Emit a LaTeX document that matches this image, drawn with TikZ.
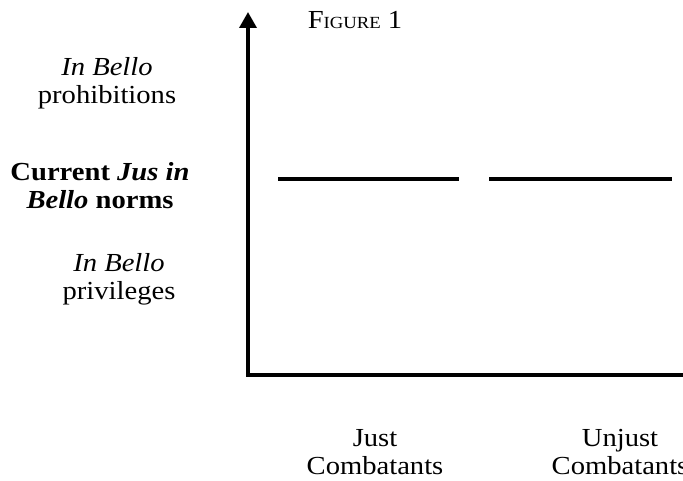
\documentclass[tikz,border=0pt]{standalone}
\usepackage{fontspec}
\setmainfont[FakeStretch=1.1]{Liberation Serif}
\usetikzlibrary{arrows.meta}

\tikzset{
  axis/.style={line width=3.5pt, line cap=rect},
  level/.style={line width=4pt},
  lbl/.style={align=center, inner sep=0pt, font=\fontsize{26}{28}\selectfont}
}

\begin{document}
\begin{tikzpicture}[x=1pt, y=-1pt]
			%%%%% START %%%%%
			\useasboundingbox (0, 0) rectangle (683, 481);
			
			\coordinate (origin) at (248, 375);
			\coordinate (ytop) at (248, 12);
			\coordinate (xend) at (690, 375);
			
			\draw[axis, -{Triangle[width=17pt, length=16pt]}] (origin) -- (ytop);
			\draw[axis] (origin) -- (xend);
			
			\coordinate (ja) at (278, 179);
			\coordinate (jb) at (459, 179);
			\coordinate (ua) at (489, 179);
			\coordinate (ub) at (672, 179);
			\draw[level] (ja) -- (jb);
			\draw[level] (ua) -- (ub);
			
			\node[lbl] (title) at (355, 20) {F{\fontsize{17}{20}\selectfont IGURE} 1};
			
			\node[lbl] (prohib) at (107, 83) {\textit{In Bello}\\prohibitions};
			\node[lbl] (current) at (100, 186) {\textbf{Current \textit{Jus in}}\\\textbf{\textit{Bello} norms}};
			\node[lbl] (priv) at (119, 279) {\textit{In Bello}\\privileges};
			
			\node[lbl] (just) at (375, 452) {Just\\Combatants};
			\node[lbl] (unjust) at (620, 452) {Unjust\\Combatants};
			%%%%% END %%%%%
\end{tikzpicture}
\end{document}
